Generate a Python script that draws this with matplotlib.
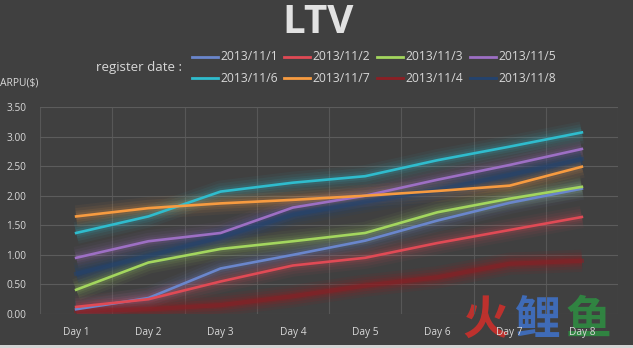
import matplotlib.pyplot as plt
from matplotlib.lines import Line2D
from matplotlib.patches import Rectangle

# ARPU per register date, day 1..8
days = ["Day 1", "Day 2", "Day 3", "Day 4", "Day 5", "Day 6", "Day 7", "Day 8"]
d_1101 = [0.08, 0.27, 0.77, 1.00, 1.24, 1.58, 1.88, 2.12]
d_1102 = [0.12, 0.25, 0.55, 0.82, 0.95, 1.20, 1.42, 1.64]
d_1103 = [0.41, 0.87, 1.10, 1.23, 1.37, 1.72, 1.95, 2.15]
d_1105 = [0.95, 1.23, 1.37, 1.80, 2.00, 2.27, 2.52, 2.79]
d_1106 = [1.37, 1.65, 2.07, 2.22, 2.33, 2.60, 2.83, 3.07]
d_1107 = [1.65, 1.79, 1.87, 1.93, 2.00, 2.08, 2.17, 2.49]
d_1104 = [0.05, 0.08, 0.15, 0.30, 0.48, 0.62, 0.85, 0.90]
d_1108 = [0.68, 0.98, 1.30, 1.68, 1.90, 2.10, 2.35, 2.62]

labels = ["2013/11/1", "2013/11/2", "2013/11/3", "2013/11/5",
          "2013/11/6", "2013/11/7", "2013/11/4", "2013/11/8"]
series = [d_1101, d_1102, d_1103, d_1105, d_1106, d_1107, d_1104, d_1108]
colors = ["#6a86cc", "#e04a55", "#a3d65e", "#9d6fc4",
          "#2fbccd", "#f79b40", "#8c1f24", "#23436f"]

bg = "#404040"
txt = "#d8d8d8"
plt.rcParams["font.family"] = ["Open Sans", "DejaVu Sans"]

W, H = 633, 348
fig = plt.figure(figsize=(W / 100, H / 100), dpi=100, facecolor=bg)
ax = fig.add_axes([40 / W, 34 / H, 578 / W, 207 / H])
ax.patch.set_visible(False)

x = list(range(len(days)))

# glow: several wide translucent strokes under each line
# the two dark series are drawn as glow only
for i, (vals, c) in enumerate(zip(series, colors)):
    dark = labels[i] in ("2013/11/4", "2013/11/8")
    for w, a in [(16, 0.05), (12, 0.07), (8, 0.09), (5, 0.12)]:
        ax.plot(x, vals, color=c, lw=w, alpha=a * (2.3 if dark else 1),
                solid_capstyle="butt", zorder=2)
    ax.plot(x, vals, color=c, lw=3 if dark else 1.9, alpha=0.55 if dark else 1,
            zorder=2.5 if dark else 3)

ax.set_xlim(-0.5, 7.5)
ax.set_ylim(0, 3.5)
ax.set_yticks([0, 0.5, 1, 1.5, 2, 2.5, 3, 3.5])
ax.set_yticklabels([f"{v:.2f}" for v in ax.get_yticks()])
ax.set_xticks(x)
ax.set_xticklabels(days)
ax.set_xticks([k + 0.5 for k in range(-1, 8)], minor=True)
ax.grid(True, axis="y", which="major", color="#5c5c5c", lw=0.8)
ax.grid(True, axis="x", which="minor", color="#575757", lw=0.8)
ax.tick_params(which="both", length=0, colors=txt, labelsize=7.3)
ax.tick_params(axis="x", pad=9)
ax.tick_params(axis="y", pad=10)
for s in ax.spines.values():
    s.set_visible(False)

fig.text(0.502, 0.935, "LTV", ha="center", va="center", fontsize=29,
         fontweight="bold", color="#e2e2e2")
fig.text(0.0, 1 - 83 / H, "ARPU($)", ha="left", va="center", fontsize=7.5, color=txt)
fig.text(96 / W, 1 - 67 / H, "register date :", ha="left", va="center",
         fontsize=9.5, color=txt)

# legend laid out in two rows of four
col_x = [192, 284, 377, 470]
row_y = [57, 78]
for k, (lab, c) in enumerate(zip(labels, colors)):
    x0 = col_x[k % 4]
    y0 = 1 - row_y[k // 4] / H
    fig.add_artist(Line2D([x0 / W, (x0 + 26) / W], [y0, y0], color=c, lw=2))
    fig.text((x0 + 28) / W, y0, lab, ha="left", va="center", fontsize=8.7, color=txt)

# watermark, sitting under the tick labels
for ch, c, xp in [("火", "#c9302c", 485), ("鲤", "#3f6fc2", 537), ("鱼", "#2f8a42", 588)]:
    fig.text(xp / W, 1 - 321 / H, ch, ha="center", va="center", fontsize=33,
             fontweight="heavy", color=c, alpha=0.92, zorder=-1,
             family=["Noto Sans CJK SC", "DejaVu Sans"])

fig.add_artist(Rectangle((0, 0), 1, 3 / H, transform=fig.transFigure,
                         facecolor="#d4d4d4", edgecolor="none"))

fig.savefig("out.png", dpi=100, facecolor=bg)
